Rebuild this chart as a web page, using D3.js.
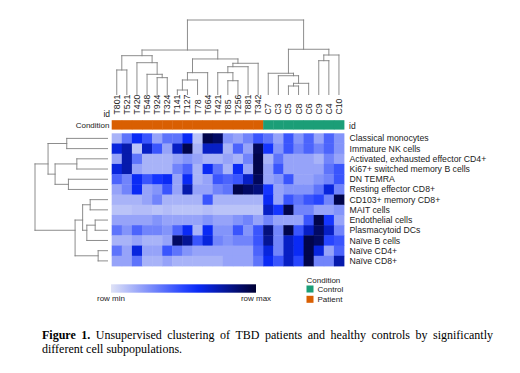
<!DOCTYPE html>
<html>
<head>
<meta charset="utf-8">
<script src="https://cdn.jsdelivr.net/npm/d3@7"></script>
<style>
body { margin: 0; background: #fff; }
svg text { font-family: "Liberation Sans", Arial, sans-serif; fill: #222; }
.caption text { font-family: "Liberation Serif", "Times New Roman", serif; fill: #000; }
</style>
</head>
<body>
<script>
// sample ids in clustered order
var samples = ["T801","T521","T420","T548","T924","T324","T141","T127","T78","T664","T421","T85","T256","T881","T342",
               "C7","C3","C5","C8","C6","C9","C4","C10"];
var condition = samples.map(function(s) { return s[0] == "T" ? "Patient" : "Control"; });

var cellTypes = ["Classical monocytes","Immature NK cells","Activated, exhausted effector CD4+","Ki67+ switched memory B cells",
  "DN TEMRA","Resting effector CD8+","CD103+ memory CD8+","MAIT cells","Endothelial cells","Plasmacytoid DCs",
  "Naïve B cells","Naïve CD4+","Naïve CD8+"];

// row scaled values (0 = row min, 1 = row max), one array per cell type
var values = [
  [0.15,0.35,0.6,0.45,0.2,0.35,0.35,0.6,0.1,0.95,0.9,0.25,0.2,0.3,0.45,0.35,0.2,0.45,0.25,0.4,0.2,0.4,0.25],
  [0.65,0.75,0.1,0.7,0.45,0.2,0.7,0.95,0.15,0.7,0.7,0.15,0.4,0.2,0.92,0.55,0.25,0.45,0.3,0.4,0.3,0.4,0.25],
  [0.2,0.75,0.35,0.15,0.15,0.15,0.2,0.25,0.2,0.15,0.15,0.2,0.15,0.3,0.95,0.15,0.35,0.2,0.2,0.2,0.15,0.3,0.2],
  [0.65,0.75,0.2,0.15,0.15,0.15,0.3,0.4,0.15,0.6,0.35,0.15,0.6,0.2,0.95,0.2,0.45,0.2,0.2,0.2,0.2,0.35,0.45],
  [0.4,0.3,0.6,0.45,0.55,0.6,0.2,0.6,0.15,0.2,0.45,0.4,0.45,0.7,0.92,0.2,0.25,0.45,0.2,0.2,0.25,0.3,0.45],
  [0.2,0.3,0.6,0.2,0.25,0.45,0.2,0.75,0.2,0.2,0.3,0.35,0.95,0.9,0.85,0.55,0.2,0.25,0.25,0.25,0.35,0.65,0.3],
  [0.15,0.15,0.15,0.2,0.3,0.15,0.15,0.15,0.15,0.45,0.15,0.15,0.15,0.15,0.15,0.6,0.2,0.45,0.35,0.45,0.5,0.3,0.95],
  [0.1,0.1,0.12,0.12,0.1,0.12,0.1,0.1,0.1,0.12,0.1,0.1,0.1,0.1,0.1,0.7,0.55,0.95,0.3,0.3,0.2,0.2,0.25],
  [0.2,0.2,0.2,0.2,0.25,0.2,0.2,0.2,0.2,0.25,0.2,0.2,0.25,0.3,0.2,0.3,0.2,0.2,0.2,0.45,0.95,0.55,0.2],
  [0.35,0.25,0.4,0.3,0.3,0.25,0.4,0.6,0.15,0.6,0.25,0.25,0.45,0.25,0.45,0.85,0.3,0.95,0.45,0.7,0.9,0.7,0.3],
  [0.15,0.15,0.2,0.15,0.15,0.2,0.9,0.8,0.45,0.65,0.3,0.25,0.3,0.3,0.45,0.8,0.3,0.7,0.6,0.95,0.9,0.5,0.45],
  [0.35,0.2,0.65,0.2,0.2,0.45,0.35,0.25,0.2,0.2,0.2,0.2,0.2,0.2,0.4,0.65,0.3,0.7,0.6,0.95,0.65,0.2,0.4],
  [0.2,0.2,0.35,0.15,0.15,0.2,0.15,0.15,0.15,0.15,0.15,0.2,0.2,0.2,0.35,0.6,0.45,0.7,0.5,0.95,0.3,0.3,0.75]
];

// dendrograms: [left, right, merge height]
var colTree = [
  [
    [["T801","T521",3.29], ["T420", ["T548", ["T924","T324",2.26], 2.71], 4.27], 5.21],
    [[[["T141","T127",0.6],"T78",1.95],"T664",2.93], [[["T421",["T85","T256",1.85],2.93],"T881",3.73],"T342",4.19], 4.77],
    5.97
  ],
  [["C7",["C3",[["C5","C8",1.14],"C6",1.5],2.52],2.85], [["C9","C4",4.54],"C10",5.3], 6.07],
  10
];
var rowTree = [
  [["Classical monocytes","Immature NK cells",5.62],
   [["Activated, exhausted effector CD4+","Ki67+ switched memory B cells",4.23],["DN TEMRA","Resting effector CD8+",5.39],7.23],
   8.2],
  [[["CD103+ memory CD8+","MAIT cells",2.39],[["Endothelial cells","Plasmacytoid DCs",1.7],"Naïve B cells",2.85],3.43],
   ["Naïve CD4+","Naïve CD8+",1.29],
   4.47],
  10
];

var condColors = {Control: "#1b9e77", Patient: "#d95f02"};
var legendLabels = ["row min", "row max"];
var captionBold = "Figure 1.";
var captionLine1 = "Unsupervised clustering of TBD patients and healthy controls by significantly";
var captionLine2 = "different cell subpopulations.";

var width = 520, height = 373;

var svg = d3.select("body").append("svg")
    .attr("width", width)
    .attr("height", height);

var x = d3.scaleBand().domain(samples).range([111.7, 344]);
var y = d3.scaleBand().domain(cellTypes).range([133.3, 266]);

var color = d3.scaleLinear()
    .domain([0, 0.58, 1])
    .range(["#dfe2f6", "#0a2cff", "#000033"]);

// heatmap
var cells = [];
values.forEach(function(row, i) {
  row.forEach(function(v, j) { cells.push({r: cellTypes[i], c: samples[j], v: v}); });
});
svg.append("g").selectAll("rect")
    .data(cells)
  .enter().append("rect")
    .attr("x", function(d) { return x(d.c); })
    .attr("y", function(d) { return y(d.r); })
    .attr("width", x.bandwidth() + 0.4)
    .attr("height", y.bandwidth() + 0.4)
    .style("fill", function(d) { return color(d.v); });

// condition annotation
svg.append("g").selectAll("rect")
    .data(samples)
  .enter().append("rect")
    .attr("x", function(d) { return x(d); })
    .attr("y", 120.2)
    .attr("width", x.bandwidth() + 0.4)
    .attr("height", 9.4)
    .style("fill", function(d, i) { return condColors[condition[i]]; });

// column labels (read bottom to top, bottoms aligned)
svg.append("g").selectAll("text")
    .data(samples)
  .enter().append("text")
    .attr("transform", function(d) { return "translate(" + (x(d) + x.bandwidth() / 2) + ",114.5) rotate(-90)"; })
    .attr("dy", "0.35em")
    .attr("text-anchor", "start")
    .style("font-size", "8.7px")
    .text(function(d) { return d; });

// row labels
svg.append("g").selectAll("text")
    .data(cellTypes)
  .enter().append("text")
    .attr("x", 349.5)
    .attr("y", function(d) { return y(d) + y.bandwidth() / 2; })
    .attr("dy", "0.35em")
    .style("font-size", "8.7px")
    .text(function(d) { return d; });

svg.append("text").attr("x", 110).attr("y", 117).attr("text-anchor", "end")
    .style("font-size", "8.5px").text("id");
svg.append("text").attr("x", 109.5).attr("y", 128).attr("text-anchor", "end")
    .style("font-size", "8px").text("Condition");
svg.append("text").attr("x", 349).attr("y", 129)
    .style("font-size", "8.5px").text("id");

// dendrograms
function drawTree(tree, leafPos, hScale, horizontal) {
  var root = d3.hierarchy(tree, function(d) { return Array.isArray(d) ? d.slice(0, 2) : null; });
  root.eachAfter(function(n) {
    if (!n.children) { n.pos = leafPos(n.data); n.h = 0; }
    else { n.pos = d3.mean(n.leaves(), function(l) { return l.pos; }); n.h = n.data[2]; }
  });
  var segs = [];
  root.each(function(n) {
    if (!n.children) return;
    n.children.forEach(function(c) { segs.push([c.pos, hScale(c.h), c.pos, hScale(n.h)]); });
    segs.push([n.children[0].pos, hScale(n.h), n.children[1].pos, hScale(n.h)]);
  });
  svg.append("g").selectAll("line")
      .data(segs)
    .enter().append("line")
      .attr("x1", function(d) { return horizontal ? d[1] : d[0]; })
      .attr("y1", function(d) { return horizontal ? d[0] : d[1]; })
      .attr("x2", function(d) { return horizontal ? d[3] : d[2]; })
      .attr("y2", function(d) { return horizontal ? d[2] : d[3]; })
      .style("stroke", "#808080")
      .style("stroke-width", 0.9)
      .style("stroke-linecap", "square");
}

drawTree(colTree, function(d) { return x(d) + x.bandwidth() / 2; },
  d3.scaleLinear().domain([0, 10]).range([94.5, 20]), false);
drawTree(rowTree, function(d) { return y(d) + y.bandwidth() / 2; },
  d3.scaleLinear().domain([0, 10]).range([107.5, 35]), true);

// colour legend
var grad = svg.append("defs").append("linearGradient").attr("id", "rowgrad");
d3.range(0, 1.01, 0.1).forEach(function(t) {
  grad.append("stop").attr("offset", t).attr("stop-color", color(t));
});
var legX = d3.scaleLinear().domain([0, 1]).range([111, 256]);
svg.append("rect")
    .attr("x", legX(0)).attr("y", 284.3)
    .attr("width", legX(1) - legX(0)).attr("height", 8.4)
    .style("fill", "url(#rowgrad)");
svg.append("g").selectAll("text")
    .data(legendLabels)
  .enter().append("text")
    .attr("x", function(d, i) { return legX(i); })
    .attr("y", 300.5)
    .attr("text-anchor", "middle")
    .style("font-size", "8px")
    .text(function(d) { return d; });

// condition legend
var condLeg = svg.append("g").attr("transform", "translate(306.5,0)");
condLeg.append("text").attr("y", 283).style("font-size", "8px").text("Condition");
var condNames = ["Control", "Patient"];
condLeg.selectAll("rect")
    .data(condNames)
  .enter().append("rect")
    .attr("y", function(d, i) { return 285.5 + i * 10.3; })
    .attr("width", 7).attr("height", 7)
    .style("fill", function(d) { return condColors[d]; });
condLeg.selectAll("text.lab")
    .data(condNames)
  .enter().append("text")
    .attr("class", "lab")
    .attr("x", 11)
    .attr("y", function(d, i) { return 292 + i * 10.3; })
    .style("font-size", "8px")
    .text(function(d) { return d; });

// caption, first line justified
var cap = svg.append("g").attr("class", "caption");
var tokens = captionBold.split(" ").map(function(w) { return {t: w, b: true}; })
  .concat(captionLine1.split(" ").map(function(w) { return {t: w, b: false}; }));
var capX0 = 42, capX1 = 493;
var words = cap.selectAll("text.w")
    .data(tokens)
  .enter().append("text")
    .attr("class", "w")
    .attr("y", 339)
    .style("font-size", "12px")
    .style("font-weight", function(d) { return d.b ? "bold" : "normal"; })
    .text(function(d) { return d.t; });
var total = 0;
words.each(function(d) { d.w = this.getComputedTextLength(); total += d.w; });
var gap = (capX1 - capX0 - total) / (tokens.length - 1);
var cx = capX0;
words.attr("x", function(d) { var p = cx; cx += d.w + gap; return p; });
cap.append("text")
    .attr("x", capX0)
    .attr("y", 352.5)
    .style("font-size", "12px")
    .text(captionLine2);
</script>
</body>
</html>
